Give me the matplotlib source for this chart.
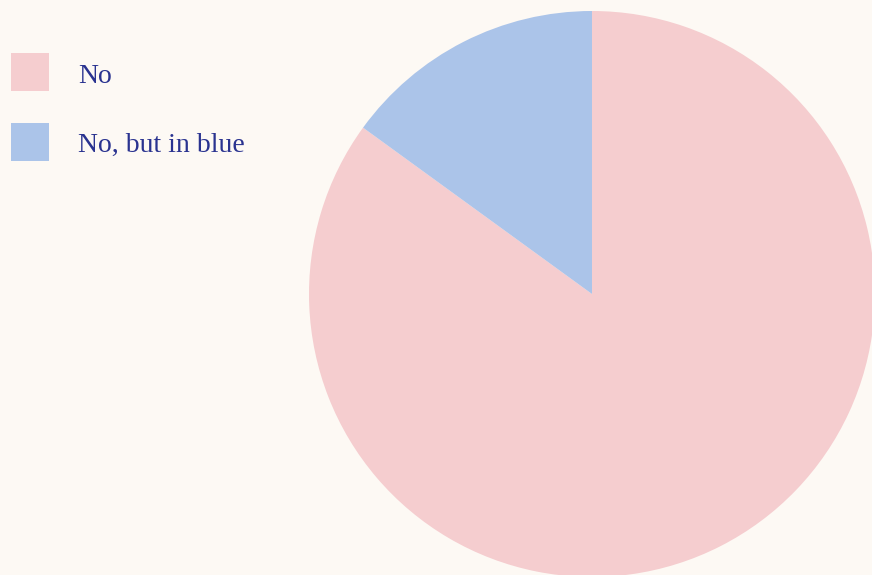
import matplotlib
matplotlib.use('Agg')
import matplotlib.pyplot as plt
from matplotlib.patches import Rectangle

# Дані діаграми
labels = ['No', 'No, but in blue']
values = [85, 15]
colors = ['#f5cdcf', '#abc4e9']

bg = '#fdf9f4'
text_color = '#2a3390'

fig = plt.figure(figsize=(8.72, 5.75), dpi=100, facecolor=bg)
ax = fig.add_axes([0, 0, 1, 1])
ax.set_facecolor(bg)

ax.pie(values, colors=colors, startangle=90, counterclock=False,
       center=(592, 281), radius=283, frame=True,
       wedgeprops={'linewidth': 0})
ax.set_xlim(0, 872)
ax.set_ylim(0, 575)
ax.set_aspect('equal')
ax.axis('off')

# Легенда вручну: квадрати та підписи
for i, (lab, col) in enumerate(zip(labels, colors)):
    top = 575 - 53 - i * 70
    ax.add_patch(Rectangle((11, top - 38), 38, 38, facecolor=col,
                           edgecolor='none', clip_on=False))
    ax.text(78, 575 - 83 - i * 69, lab, fontsize=20, family='Liberation Serif',
            color=text_color, ha='left', va='baseline')

fig.savefig('out.png', dpi=100, facecolor=bg)
